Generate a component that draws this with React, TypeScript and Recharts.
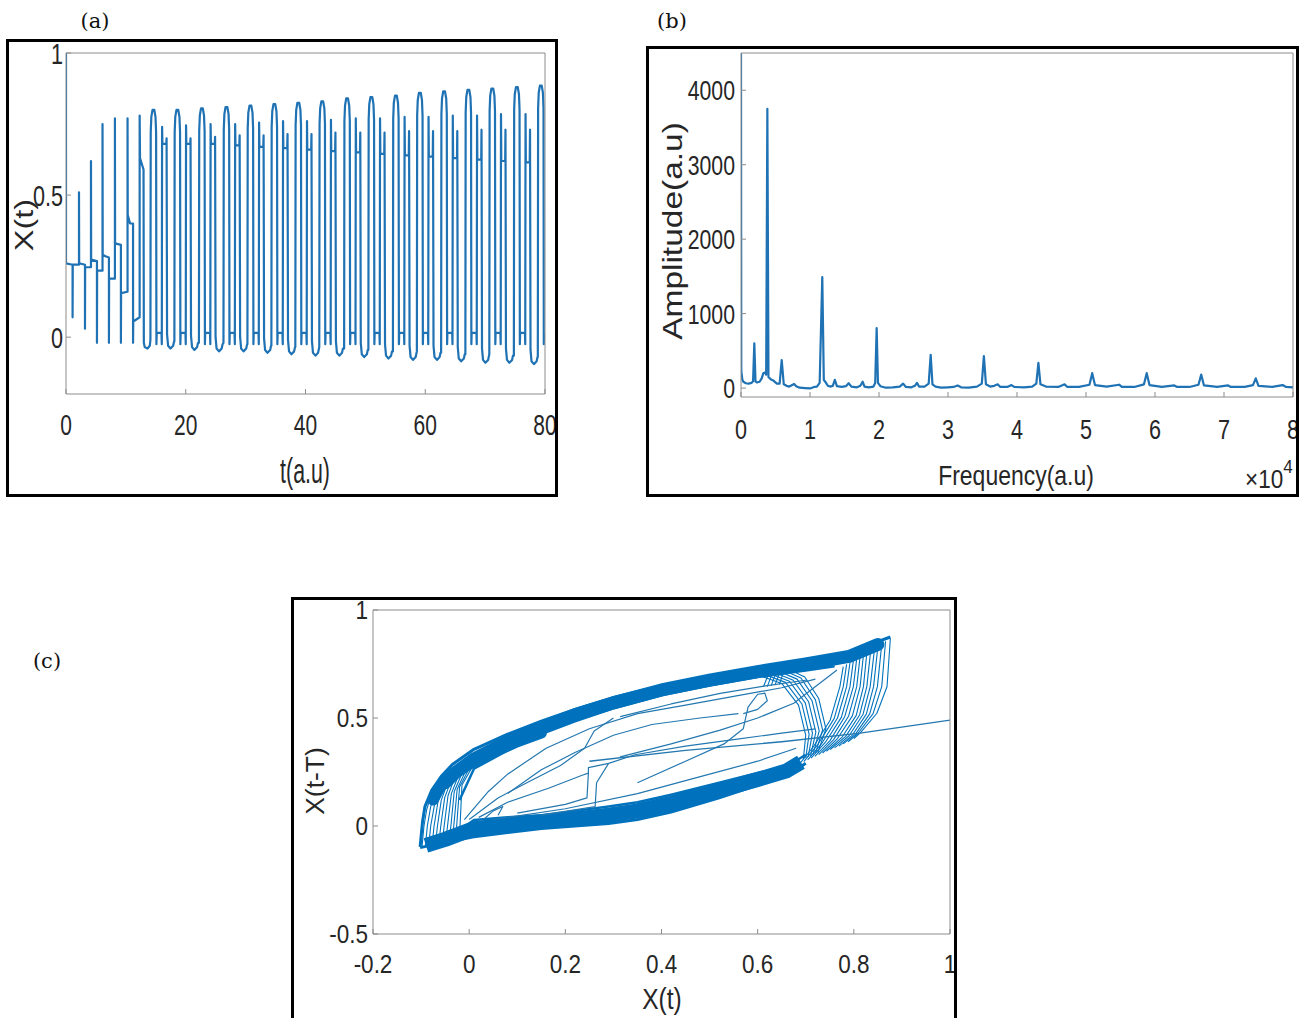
import React from "react";
import { LineChart, Line, XAxis, YAxis } from "recharts";

const BLUE = "#0072BD";
const TRACE = "#1f72b4";
const GRID = "#8c8c8c";
const INK = "#262626";
const SANS = "'Liberation Sans', Arial, Helvetica, sans-serif";

/* ---------- (a) X(t) time trace ---------- */

// start-up transient before the regular pulsing, [t, X]
const transient: [number, number][] = [
  [0, 1.0], [0, 0.26], [1.1, 0.255], [1.1, 0.07], [1.13, 0.255],
  [2.17, 0.255], [2.17, 0.51], [2.2, 0.26],
  [3.17, 0.255], [3.17, 0.03], [3.2, 0.246],
  [4.17, 0.246], [4.17, 0.62], [4.2, 0.273],
  [5.17, 0.268], [5.17, -0.02], [5.2, 0.234],
  [6.1, 0.234], [6.1, 0.75], [6.13, 0.29], [6.6, 0.285],
  [7.17, 0.28], [7.17, -0.02], [7.2, 0.206],
  [8.17, 0.206], [8.17, 0.77], [8.2, 0.33],
  [9.17, 0.325], [9.17, -0.02], [9.2, 0.155],
  [10.28, 0.16], [10.28, 0.77], [10.31, 0.43], [10.7, 0.4],
  [11.2, 0.4], [11.2, -0.02], [11.23, 0.055],
  [12.3, 0.07], [12.3, 0.78], [12.36, 0.63], [12.95, 0.59],
  [13.0, -0.02], [13.15, -0.035], [13.6, -0.04], [14.0, -0.03],
];

// regular cycles
const cycleStart = [14.1, 18.1, 22.2, 26.3, 30.3, 34.3, 38.3, 42.3, 46.45, 50.5, 54.6, 58.6, 62.65, 66.7, 70.7, 74.8, 78.8];
const cycleTop = [0.8, 0.8, 0.805, 0.81, 0.815, 0.82, 0.825, 0.83, 0.84, 0.845, 0.85, 0.86, 0.865, 0.87, 0.875, 0.88, 0.885];
const cycleTrough = [-0.04, -0.045, -0.05, -0.05, -0.055, -0.06, -0.065, -0.065, -0.07, -0.075, -0.08, -0.08, -0.085, -0.09, -0.09, -0.095, -0.1];
const spikeLeft = [0.74, 0.745, 0.75, 0.75, 0.755, 0.76, 0.76, 0.765, 0.77, 0.77, 0.775, 0.775, 0.78, 0.78, 0.785, 0.785, 0.79];
const spikeRight = [0.7, 0.7, 0.705, 0.71, 0.71, 0.715, 0.715, 0.72, 0.72, 0.72, 0.725, 0.725, 0.725, 0.73, 0.73, 0.73, 0.73];
const crossLevel = [0.68, 0.68, 0.68, 0.675, 0.67, 0.665, 0.66, 0.655, 0.65, 0.645, 0.64, 0.635, 0.63, 0.625, 0.62, 0.615, 0.61];
const lowDip = -0.025;
const lowBar = 0.015;

type Level = "top" | "trough" | "left" | "right" | "cross" | "dip" | "bar";
// shape of one cycle: [offset in t, level, small offset]
const cycleShape: [number, Level, number][] = [
  [0.0, "trough", 0.03],
  [0.05, "top", -0.08],
  [0.15, "top", -0.025],
  [0.35, "top", 0],
  [0.65, "top", 0],
  [0.85, "top", -0.025],
  [0.95, "top", -0.08],
  [1.0, "dip", 0],
  [1.05, "bar", 0],
  [1.85, "bar", 0],
  [1.9, "dip", 0],
  [1.95, "left", 0],
  [2.0, "cross", 0],
  [2.65, "cross", 0],
  [2.7, "right", 0],
  [2.78, "trough", 0.05],
  [2.95, "trough", 0.01],
  [3.35, "trough", 0],
  [3.8, "trough", 0.01],
  [3.95, "trough", 0.025],
];

const seriesA: { t: number; v: number }[] = transient.map(([t, v]) => ({ t, v }));
cycleStart.forEach((s, i) => {
  const lv: Record<Level, number> = {
    top: cycleTop[i],
    trough: cycleTrough[i],
    left: spikeLeft[i],
    right: spikeRight[i],
    cross: crossLevel[i],
    dip: lowDip,
    bar: lowBar,
  };
  cycleShape.forEach(([dt, key, add]) => {
    const t = s + dt;
    if (t <= 80) seriesA.push({ t, v: lv[key] + add });
  });
});

/* ---------- (b) amplitude spectrum, [freq x1e4, amplitude] ---------- */

const spectrum: [number, number][] = [
  [0, 4500], [0.004, 230], [0.02, 110], [0.034, 85], [0.07, 65], [0.11, 60], [0.155, 70], [0.175, 90],
  [0.193, 600], [0.21, 90], [0.23, 75], [0.27, 85], [0.3, 130], [0.324, 200], [0.348, 210], [0.365, 180],
  [0.382, 3750], [0.398, 150], [0.435, 115], [0.47, 100], [0.52, 60], [0.56, 60],
  [0.59, 377], [0.62, 50], [0.66, 30], [0.7, 20], [0.77, 55], [0.8, 25], [0.85, 5], [0.93, 0], [1.0, -5],
  [1.06, 15], [1.1, 20], [1.14, 70], [1.178, 1490], [1.2, 110], [1.22, 85], [1.26, 30], [1.29, 20],
  [1.33, 30], [1.36, 110], [1.39, 25], [1.46, 15], [1.52, 25], [1.56, 65], [1.6, 20], [1.68, 10],
  [1.73, 30], [1.763, 85], [1.79, 20], [1.85, 10], [1.92, 20], [1.945, 70], [1.966, 805], [1.985, 70],
  [2.02, 25], [2.1, 5], [2.2, 10], [2.3, 20], [2.35, 60], [2.39, 15], [2.47, 10], [2.52, 30], [2.55, 70],
  [2.58, 20], [2.66, 20], [2.72, 60], [2.749, 445], [2.775, 50], [2.82, 20], [2.9, 5], [3.0, 10],
  [3.08, 15], [3.14, 35], [3.19, 10], [3.3, 5], [3.42, 20], [3.49, 60], [3.52, 430], [3.55, 50],
  [3.61, 20], [3.67, 30], [3.72, 50], [3.76, 15], [3.86, 15], [3.92, 40], [3.96, 15], [4.1, 10],
  [4.22, 20], [4.28, 60], [4.31, 340], [4.34, 50], [4.42, 20], [4.6, 15], [4.69, 50], [4.73, 15],
  [4.9, 15], [5.05, 45], [5.09, 200], [5.13, 40], [5.3, 20], [5.48, 45], [5.52, 15], [5.7, 15],
  [5.84, 50], [5.88, 200], [5.92, 40], [6.1, 15], [6.28, 35], [6.32, 15], [6.5, 15], [6.63, 45],
  [6.67, 180], [6.71, 35], [6.9, 15], [7.06, 35], [7.1, 15], [7.3, 15], [7.42, 40], [7.46, 130],
  [7.5, 30], [7.7, 15], [7.85, 40], [7.9, 15], [8, 10],
];
const seriesB = spectrum.map(([f, a]) => ({ f, a }));

/* ---------- (c) phase portrait X(t) vs X(t-T) ---------- */

type Pts = [number, number][];

const upperOuter: Pts = [
  [-0.102, -0.097], [-0.097, 0.02], [-0.092, 0.09], [-0.078, 0.165], [-0.058, 0.23], [-0.035, 0.285],
  [0.01, 0.355], [0.08, 0.425], [0.15, 0.485], [0.22, 0.54], [0.3, 0.595], [0.4, 0.65], [0.5, 0.695],
  [0.6, 0.735], [0.7, 0.77], [0.79, 0.805], [0.876, 0.875],
];
const upperMid: Pts = [
  [-0.05, 0.2], [-0.03, 0.245], [0.01, 0.31], [0.08, 0.39], [0.15, 0.455], [0.22, 0.515], [0.3, 0.57],
  [0.4, 0.63], [0.5, 0.675], [0.6, 0.715], [0.7, 0.75], [0.79, 0.785], [0.85, 0.84],
];
const upperMidLeft: Pts = [
  [-0.075, 0.12], [-0.06, 0.18], [-0.035, 0.235], [0.0, 0.285], [0.05, 0.34], [0.1, 0.39], [0.15, 0.43],
];
const upperInner: Pts = [
  [-0.02, 0.12], [0.01, 0.265], [0.08, 0.35], [0.15, 0.425], [0.22, 0.485], [0.3, 0.545], [0.4, 0.605],
  [0.5, 0.65], [0.6, 0.69], [0.7, 0.72], [0.76, 0.74],
];
const lowerOuter: Pts = [
  [-0.102, -0.1], [-0.05, -0.075], [0.01, -0.05], [0.08, -0.03], [0.15, -0.012], [0.22, 0.0],
  [0.29, 0.012], [0.35, 0.03], [0.42, 0.065], [0.52, 0.13], [0.6, 0.19], [0.66, 0.23], [0.7, 0.29],
];
const lowerMid: Pts = [
  [-0.09, -0.09], [-0.05, -0.062], [0.01, -0.012], [0.08, 0.005], [0.15, 0.02], [0.22, 0.033],
  [0.29, 0.05], [0.35, 0.07], [0.42, 0.105], [0.52, 0.165], [0.6, 0.215], [0.66, 0.255], [0.69, 0.295],
];
const lowerInner: Pts = [
  [-0.02, -0.02], [0.01, 0.028], [0.08, 0.04], [0.15, 0.05], [0.22, 0.07], [0.29, 0.09], [0.35, 0.11],
  [0.42, 0.145], [0.52, 0.2], [0.6, 0.245], [0.66, 0.275], [0.7, 0.33],
];

const leftFan: Pts[] = [
  [[-0.098, -0.095], [-0.094, 0.0], [-0.088, 0.08], [-0.075, 0.165]],
  [[-0.091, -0.092], [-0.087, 0.0], [-0.08, 0.09], [-0.065, 0.185]],
  [[-0.084, -0.089], [-0.08, 0.0], [-0.072, 0.1], [-0.056, 0.2]],
  [[-0.077, -0.086], [-0.073, 0.0], [-0.065, 0.11], [-0.048, 0.215]],
  [[-0.07, -0.083], [-0.066, 0.0], [-0.058, 0.12], [-0.04, 0.23]],
  [[-0.063, -0.079], [-0.059, 0.0], [-0.051, 0.13], [-0.032, 0.245]],
  [[-0.056, -0.076], [-0.052, 0.0], [-0.044, 0.14], [-0.024, 0.26]],
  [[-0.049, -0.073], [-0.045, 0.0], [-0.037, 0.15], [-0.016, 0.27]],
  [[-0.042, -0.07], [-0.038, 0.0], [-0.031, 0.16], [-0.008, 0.28]],
  [[-0.035, -0.067], [-0.032, 0.0], [-0.025, 0.17], [0.0, 0.29]],
  [[-0.028, -0.064], [-0.026, 0.0], [-0.02, 0.18], [0.008, 0.3]],
  [[-0.021, -0.06], [-0.019, 0.0], [-0.015, 0.19], [0.016, 0.31]],
];

const rightFan: Pts[] = [
  [[0.688, 0.29], [0.716, 0.367], [0.751, 0.491], [0.771, 0.645], [0.778, 0.738]],
  [[0.696, 0.298], [0.724, 0.374], [0.759, 0.497], [0.778, 0.645], [0.785, 0.748]],
  [[0.704, 0.306], [0.733, 0.381], [0.766, 0.5], [0.785, 0.645], [0.792, 0.757]],
  [[0.711, 0.314], [0.741, 0.388], [0.774, 0.503], [0.792, 0.645], [0.799, 0.766]],
  [[0.719, 0.322], [0.75, 0.394], [0.781, 0.506], [0.799, 0.645], [0.806, 0.775]],
  [[0.727, 0.33], [0.758, 0.4], [0.789, 0.508], [0.806, 0.645], [0.813, 0.784]],
  [[0.735, 0.338], [0.766, 0.405], [0.797, 0.51], [0.813, 0.645], [0.82, 0.792]],
  [[0.743, 0.346], [0.775, 0.41], [0.805, 0.512], [0.82, 0.645], [0.827, 0.8]],
  [[0.751, 0.354], [0.783, 0.415], [0.812, 0.514], [0.827, 0.645], [0.835, 0.81]],
  [[0.76, 0.362], [0.79, 0.418], [0.819, 0.516], [0.834, 0.645], [0.843, 0.82]],
  [[0.769, 0.37], [0.797, 0.421], [0.826, 0.518], [0.841, 0.645], [0.85, 0.83]],
  [[0.778, 0.38], [0.803, 0.424], [0.833, 0.519], [0.849, 0.645], [0.858, 0.84]],
  [[0.788, 0.39], [0.808, 0.427], [0.84, 0.52], [0.858, 0.645], [0.866, 0.855]],
  [[0.8, 0.405], [0.813, 0.43], [0.848, 0.522], [0.869, 0.645], [0.876, 0.869]],
];

const midFan: Pts[] = [
  [[0.6, 0.7], [0.65, 0.66], [0.685, 0.56], [0.7, 0.42], [0.695, 0.31]],
  [[0.61, 0.705], [0.658, 0.665], [0.692, 0.565], [0.707, 0.425], [0.7, 0.315]],
  [[0.62, 0.71], [0.666, 0.67], [0.699, 0.57], [0.714, 0.43], [0.705, 0.32]],
  [[0.63, 0.715], [0.674, 0.675], [0.706, 0.575], [0.721, 0.435], [0.71, 0.325]],
  [[0.64, 0.72], [0.682, 0.68], [0.713, 0.58], [0.728, 0.44], [0.715, 0.33]],
  [[0.65, 0.725], [0.69, 0.685], [0.72, 0.585], [0.735, 0.445], [0.72, 0.335]],
  [[0.66, 0.73], [0.698, 0.69], [0.727, 0.59], [0.742, 0.45], [0.725, 0.34]],
];

const notchHatch: Pts[] = [
  [[0.612, 0.645], [0.622, 0.7]],
  [[0.62, 0.645], [0.63, 0.705]],
  [[0.628, 0.65], [0.638, 0.708]],
  [[0.636, 0.652], [0.646, 0.712]],
  [[0.645, 0.655], [0.654, 0.715]],
];

const innerLoops: Pts[] = [
  [[-0.01, 0.03], [0.04, 0.16], [0.08, 0.24], [0.16, 0.36], [0.25, 0.45], [0.35, 0.52], [0.45, 0.56], [0.55, 0.6], [0.65, 0.64], [0.72, 0.68]],
  [[0.0, 0.03], [0.06, 0.13], [0.12, 0.2], [0.19, 0.28], [0.24, 0.36], [0.26, 0.44], [0.3, 0.5]],
  [[0.02, 0.04], [0.08, 0.11], [0.165, 0.175], [0.235, 0.235], [0.248, 0.245], [0.248, 0.27], [0.29, 0.29], [0.345, 0.33], [0.45, 0.37], [0.55, 0.4], [0.65, 0.43], [0.72, 0.45]],
  [[0.1, 0.06], [0.2, 0.1], [0.245, 0.13], [0.248, 0.245]],
  [[0.15, 0.05], [0.262, 0.09], [0.265, 0.2], [0.29, 0.29]],
  [[0.35, 0.2], [0.45, 0.3], [0.53, 0.38], [0.57, 0.45], [0.58, 0.55], [0.6, 0.61], [0.615, 0.615], [0.62, 0.58], [0.6, 0.54], [0.57, 0.52]],
  [[0.314, 0.32], [0.42, 0.38], [0.522, 0.444], [0.6, 0.5], [0.675, 0.568], [0.765, 0.722]],
  [[0.314, 0.506], [0.42, 0.565], [0.522, 0.614], [0.62, 0.65], [0.703, 0.676]],
  [[0.05, 0.03], [0.2, 0.08], [0.35, 0.15], [0.5, 0.24], [0.6, 0.3], [0.68, 0.36]],
  [[0.08, 0.15], [0.15, 0.26], [0.22, 0.34], [0.3, 0.42], [0.38, 0.47], [0.48, 0.5], [0.56, 0.52]],
  [[0.03, 0.03], [0.05, 0.07], [0.07, 0.09], [0.06, 0.05]],
];

const tailLine: Pts = [[0.25, 0.3], [0.45, 0.35], [0.65, 0.39], [0.813, 0.43], [1.0, 0.49]];

const toXY = (p: Pts) => p.map(([x, y]) => ({ x, y }));

/* ---------- helpers ---------- */

function bottomTick(fs: number, sx: number) {
  return (props: any) => {
    const { x, y, payload } = props;
    return (
      <text transform={`translate(${x},${y}) scale(${sx},1)`} y={fs * 0.72} textAnchor="middle" fontSize={fs} fill={INK} fontFamily={SANS}>
        {String(payload.value)}
      </text>
    );
  };
}

function leftTick(fs: number, sx: number) {
  return (props: any) => {
    const { x, y, payload } = props;
    return (
      <text transform={`translate(${x},${y}) scale(${sx},1)`} y={fs * 0.36} textAnchor="end" fontSize={fs} fill={INK} fontFamily={SANS}>
        {String(payload.value)}
      </text>
    );
  };
}

const tickA = { b: bottomTick(30, 0.7), l: leftTick(30, 0.72) };
const tickB = { b: bottomTick(27, 0.8), l: leftTick(28, 0.76) };
const tickC = { b: bottomTick(25, 0.9), l: leftTick(25, 0.9) };

const lineBase = { dot: false, activeDot: false, isAnimationActive: false, strokeLinejoin: "round" as const };

export default function App() {
  return (
    <div style={{ position: "absolute", left: 0, top: 0, width: 1307, height: 1018, overflow: "hidden", background: "#fff" }}>
      {/* (a) */}
      <div style={{ position: "absolute", left: 0, top: 30 }}>
        <LineChart width={560} height={430} data={seriesA} margin={{ top: 22, right: 14, bottom: 0, left: 16 }}>
          <XAxis dataKey="t" type="number" domain={[0, 80]} ticks={[0, 20, 40, 60, 80]} allowDataOverflow interval={0} height={66} stroke={GRID} tickSize={-5} tickMargin={24} tick={tickA.b} />
          <XAxis xAxisId="top" dataKey="t" orientation="top" type="number" domain={[0, 80]} ticks={[0, 20, 40, 60, 80]} allowDataOverflow interval={0} height={1} stroke={GRID} tickSize={-5} tick={false} />
          <YAxis type="number" domain={[-0.2, 1]} ticks={[0, 0.5, 1]} allowDataOverflow interval={0} width={50} stroke={GRID} tickSize={-5} tickMargin={8} tick={tickA.l} />
          <YAxis yAxisId="right" orientation="right" type="number" domain={[-0.2, 1]} ticks={[0, 0.5, 1]} allowDataOverflow interval={0} width={1} stroke={GRID} tickSize={-5} tick={false} />
          <Line dataKey="v" type="linear" stroke={TRACE} strokeWidth={2.2} {...lineBase} />
        </LineChart>
      </div>

      {/* (b) */}
      <div style={{ position: "absolute", left: 680, top: 30 }}>
        <LineChart width={627} height={430} data={seriesB} margin={{ top: 22, right: 13, bottom: 0, left: 0 }}>
          <XAxis dataKey="f" type="number" domain={[0, 8]} ticks={[0, 1, 2, 3, 4, 5, 6, 7, 8]} allowDataOverflow interval={0} height={63} stroke={GRID} tickSize={-5} tickMargin={28} tick={tickB.b} />
          <XAxis xAxisId="top" dataKey="f" orientation="top" type="number" domain={[0, 8]} ticks={[0, 1, 2, 3, 4, 5, 6, 7, 8]} allowDataOverflow interval={0} height={1} stroke={GRID} tickSize={-5} tick={false} />
          <YAxis type="number" domain={[-120, 4500]} ticks={[0, 1000, 2000, 3000, 4000]} allowDataOverflow interval={0} width={61} stroke={GRID} tickSize={-5} tickMargin={11} tick={tickB.l} />
          <YAxis yAxisId="right" orientation="right" type="number" domain={[-120, 4500]} ticks={[0, 1000, 2000, 3000, 4000]} allowDataOverflow interval={0} width={1} stroke={GRID} tickSize={-5} tick={false} />
          <Line dataKey="a" type="linear" stroke={TRACE} strokeWidth={2.2} {...lineBase} />
        </LineChart>
      </div>

      {/* (c) */}
      <div style={{ position: "absolute", left: 320, top: 597 }}>
        <LineChart width={650} height={400} margin={{ top: 12, right: 19, bottom: 0, left: 0 }}>
          <XAxis dataKey="x" type="number" domain={[-0.2, 1]} ticks={[-0.2, 0, 0.2, 0.4, 0.6, 0.8, 1]} allowDataOverflow interval={0} height={63} stroke={GRID} tickSize={-5} tickMargin={26} tick={tickC.b} />
          <XAxis xAxisId="top" dataKey="x" orientation="top" type="number" domain={[-0.2, 1]} ticks={[-0.2, 0, 0.2, 0.4, 0.6, 0.8, 1]} allowDataOverflow interval={0} height={1} stroke={GRID} tickSize={-5} tick={false} />
          <YAxis type="number" domain={[-0.5, 1]} ticks={[-0.5, 0, 0.5, 1]} allowDataOverflow interval={0} width={53} stroke={GRID} tickSize={-5} tickMargin={10} tick={tickC.l} />
          <YAxis yAxisId="right" orientation="right" type="number" domain={[-0.5, 1]} ticks={[-0.5, 0, 0.5, 1]} allowDataOverflow interval={0} width={1} stroke={GRID} tickSize={-5} tick={false} />
          <Line data={toXY(upperMid)} dataKey="y" stroke={BLUE} strokeWidth={13} strokeLinecap="round" {...lineBase} />
          <Line data={toXY(upperMidLeft)} dataKey="y" stroke={BLUE} strokeWidth={11} strokeLinecap="round" {...lineBase} />
          <Line data={toXY(lowerMid)} dataKey="y" stroke={BLUE} strokeWidth={15} strokeLinecap="butt" {...lineBase} />
          <Line data={toXY(upperOuter)} dataKey="y" stroke={BLUE} strokeWidth={3} {...lineBase} />
          <Line data={toXY(upperInner)} dataKey="y" stroke={BLUE} strokeWidth={2.5} {...lineBase} />
          <Line data={toXY(lowerOuter)} dataKey="y" stroke={BLUE} strokeWidth={3} {...lineBase} />
          <Line data={toXY(lowerInner)} dataKey="y" stroke={BLUE} strokeWidth={2.5} {...lineBase} />
          {[...leftFan, ...rightFan, ...midFan, ...notchHatch].map((p, i) => (
            <Line key={`fan${i}`} data={toXY(p)} dataKey="y" stroke={BLUE} strokeWidth={1.1} {...lineBase} />
          ))}
          {innerLoops.map((p, i) => (
            <Line key={`in${i}`} data={toXY(p)} dataKey="y" stroke="#2478b0" strokeWidth={1.2} {...lineBase} />
          ))}
          <Line data={toXY(tailLine)} dataKey="y" stroke="#2478b0" strokeWidth={1.4} {...lineBase} />
        </LineChart>
      </div>

      {/* frames, panel tags and axis titles */}
      <svg width={1307} height={1018} style={{ position: "absolute", left: 0, top: 0, pointerEvents: "none" }}>
        <rect x={7.5} y={40.5} width={549} height={455} fill="none" stroke="#000" strokeWidth={3} />
        <rect x={647.5} y={47.5} width={650} height={448} fill="none" stroke="#000" strokeWidth={3} />
        <rect x={292.5} y={598.5} width={663} height={440} fill="none" stroke="#000" strokeWidth={3} />

        <g fontFamily="'DejaVu Serif', serif" fontSize={21} fill="#111" textAnchor="middle">
          <text x={95} y={28}>(a)</text>
          <text x={672} y={28}>(b)</text>
          <text x={47} y={668}>(c)</text>
        </g>

        <g fontFamily={SANS} fill={INK}>
          <text transform="translate(305,483) scale(0.61,1)" textAnchor="middle" fontSize={35}>t(a.u)</text>
          <text transform="translate(24,225) rotate(-90) scale(1.3,1)" textAnchor="middle" dy="0.36em" fontSize={25}>X(t)</text>

          <text transform="translate(1016,485) scale(0.82,1)" textAnchor="middle" fontSize={28}>Frequency(a.u)</text>
          <text transform="translate(672,231) rotate(-90) scale(1.24,1)" textAnchor="middle" dy="0.36em" fontSize={27}>Amplitude(a.u)</text>
          <text transform="translate(1245,488) scale(0.9,1)" fontSize={25}>
            ×10<tspan dy={-15} fontSize={19}>4</tspan>
          </text>

          <text transform="translate(662,1009) scale(0.82,1)" textAnchor="middle" fontSize={30}>X(t)</text>
          <text transform="translate(315,781) rotate(-90) scale(1.06,1)" textAnchor="middle" dy="0.36em" fontSize={25}>X(t-T)</text>
        </g>
      </svg>
    </div>
  );
}
